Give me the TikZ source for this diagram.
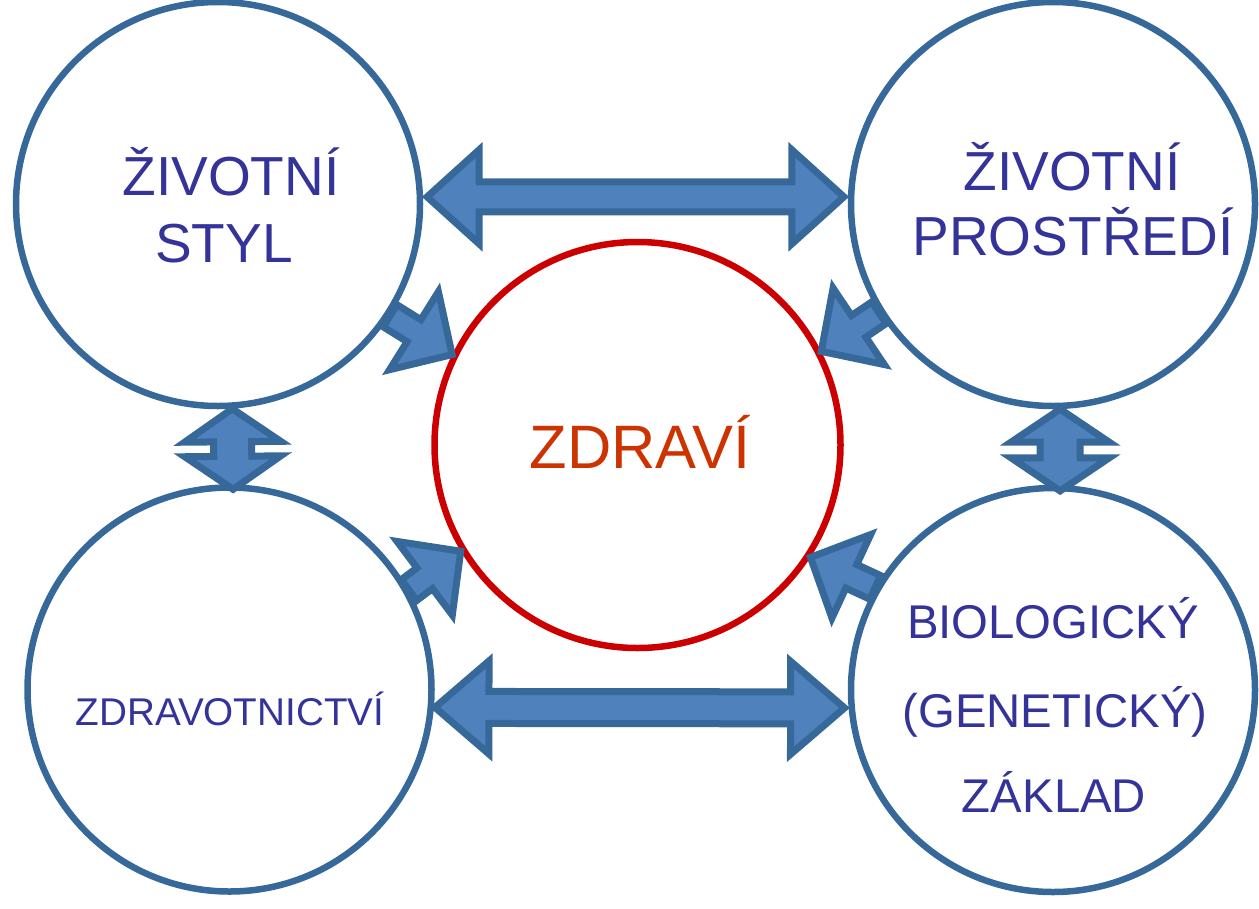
\documentclass[tikz,border=0pt]{standalone}
\usepackage{fontspec}
\setmainfont{Liberation Sans}
\usetikzlibrary{calc}

% one screen pixel
\newdimen\px \px=0.75pt

\definecolor{ringblue}{RGB}{54,104,154}
\definecolor{arrowfill}{RGB}{79,129,189}
\definecolor{labelblue}{RGB}{51,51,153}
\definecolor{healthred}{RGB}{204,0,0}
\definecolor{healthtext}{RGB}{204,51,0}

\tikzset{
  ring/.style={circle, draw=ringblue, line width=6.5\px, minimum size=404\px, inner sep=0pt},
  core/.style={circle, draw=healthred, line width=6.5\px, minimum size=406\px, inner sep=0pt},
  blockarrow/.style={fill=arrowfill, draw=ringblue, line width=7\px, line join=miter},
  lbl/.style={anchor=base, text=labelblue, inner sep=0pt},
  biglbl/.style={lbl, font=\fontsize{41.25}{50}\selectfont},
  midlbl/.style={lbl, font=\fontsize{35.5}{43}\selectfont},
  smalllbl/.style={lbl, font=\fontsize{29}{34}\selectfont},
}

% block arrow with a head at both ends
% #1,#2 tips; #3 head length; #4 head half width; #5 shaft half width
\newcommand\twowayarrow[5]{%
  \path[blockarrow]
    (#1)
    -- ($(#1)!#3!(#2)!#4!90:(#2)$)
    -- ($(#1)!#3!(#2)!#5!90:(#2)$)
    -- ($(#2)!#3!(#1)!#5!-90:(#1)$)
    -- ($(#2)!#3!(#1)!#4!-90:(#1)$)
    -- (#2)
    -- ($(#2)!#3!(#1)!#4!90:(#1)$)
    -- ($(#2)!#3!(#1)!#5!90:(#1)$)
    -- ($(#1)!#3!(#2)!#5!-90:(#2)$)
    -- ($(#1)!#3!(#2)!#4!-90:(#2)$)
    -- cycle;}

% block arrow with a single head
% #1 tail; #2 tip; #3 head length; #4 head half width; #5 shaft half width
\newcommand\onewayarrow[5]{%
  \path[blockarrow]
    ($(#1)!#5!90:(#2)$)
    -- ($(#2)!#3!(#1)!#5!-90:(#1)$)
    -- ($(#2)!#3!(#1)!#4!-90:(#1)$)
    -- (#2)
    -- ($(#2)!#3!(#1)!#4!90:(#1)$)
    -- ($(#2)!#3!(#1)!#5!90:(#1)$)
    -- ($(#1)!#5!-90:(#2)$)
    -- cycle;}

\begin{document}
\begin{tikzpicture}[x=\px, y=-\px]
  \useasboundingbox (0,0) rectangle (1259,908);

  % the five circles
  \node[ring] (tl) at (218,204) {};
  \node[ring] (tr) at (1053,204) {};
  \node[ring] (bl) at (229.5,689.5) {};
  \node[ring] (br) at (1053,690) {};
  \node[core] (zd) at (637.5,445) {};

  % arrow ends on the circles
  \coordinate (tlE) at ([xshift=4\px]tl.2);
  \coordinate (trW) at ([xshift=-4\px]tr.178);
  \coordinate (blE) at ([xshift=1\px]bl.-5);
  \coordinate (brW) at ([xshift=-4\px]br.185);
  \coordinate (tlS) at (tl.-86);
  \coordinate (blN) at ([yshift=-5\px]bl.89);
  \coordinate (trS) at (tr.-88);
  \coordinate (brN) at ([yshift=-6\px]br.88);

  % two-way links between neighbouring circles
  \twowayarrow{tlE}{trW}{52\px}{47\px}{15\px}
  \twowayarrow{blE}{brW}{54\px}{46.5\px}{16\px}
  \twowayarrow{tlS}{blN}{33\px}{48\px}{19\px}
  \twowayarrow{trS}{brN}{33\px}{49\px}{20\px}

  % arrows into the centre
  \onewayarrow{tl.-33}{zd.154}{45\px}{46\px}{13\px}
  \onewayarrow{tr.212}{zd.27}{45\px}{46\px}{13\px}
  \onewayarrow{bl.29}{zd.211}{45\px}{46\px}{13\px}
  \onewayarrow{br.150}{zd.-33}{45\px}{46\px}{13\px}

  % labels
  \node[biglbl] (tl1) at (231,195) {ŽIVOTNÍ};
  \node[biglbl] (tl2) at (224,262) {STYL};
  \node[biglbl] (tr1) at (1072,190) {ŽIVOTNÍ};
  \node[biglbl] (tr2) at (1073,255) {PROSTŘEDÍ};
  \node[lbl, text=healthtext, font=\fontsize{46}{55}\selectfont] (zd1) at (640,468) {ZDRAVÍ};
  \node[smalllbl] (bl1) at (230,725) {ZDRAVOTNICTVÍ};
  \node[midlbl] (br1) at (1053,638) {BIOLOGICKÝ};
  \node[midlbl] (br2) at (1055,727) {(GENETICKÝ)};
  \node[midlbl] (br3) at (1054,812) {ZÁKLAD};
\end{tikzpicture}
\end{document}
